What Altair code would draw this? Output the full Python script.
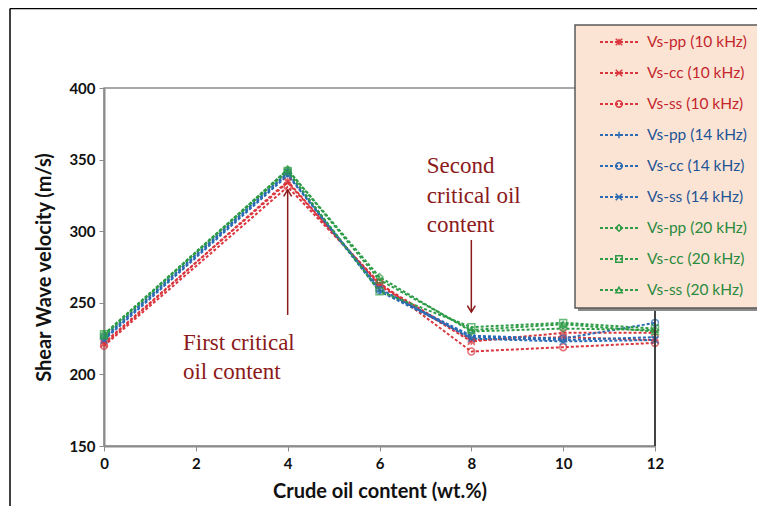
import altair as alt
import pandas as pd

# ---------------- data ----------------
oil_content = [0, 4, 6, 8, 10, 12]
series_names = [
    "Vs-pp (10 kHz)", "Vs-cc (10 kHz)", "Vs-ss (10 kHz)",
    "Vs-pp (14 kHz)", "Vs-cc (14 kHz)", "Vs-ss (14 kHz)",
    "Vs-pp (20 kHz)", "Vs-cc (20 kHz)", "Vs-ss (20 kHz)",
]
series_freq = ["10 kHz"] * 3 + ["14 kHz"] * 3 + ["20 kHz"] * 3
vs_pp_10 = [221, 335, 262, 223, 229, 229]
vs_cc_10 = [222, 334, 263, 224, 226, 224]
vs_ss_10 = [220, 331, 264, 216, 219, 222]
vs_pp_14 = [225, 340, 258, 226, 224, 226]
vs_cc_14 = [226, 341, 259, 227, 225, 236]
vs_ss_14 = [224, 339, 260, 225, 223, 224]
vs_pp_20 = [228, 343, 268, 230, 232, 231]
vs_cc_20 = [228, 342, 258, 233, 236, 232]
vs_ss_20 = [227, 343, 266, 231, 235, 230]
series_values = [vs_pp_10, vs_cc_10, vs_ss_10, vs_pp_14, vs_cc_14, vs_ss_14,
                 vs_pp_20, vs_cc_20, vs_ss_20]

freq_domain = ["10 kHz", "14 kHz", "20 kHz"]
line_colors = ["#D9363E", "#2A6BB3", "#2E9C46"]
text_colors = ["#C4262E", "#1F5496", "#2A8A3E"]
marker_paths = [
    "M-1,-1L1,1M-1,1L1,-1M0,-1L0,1",   # pp 10
    "M-1,-1L1,1M-1,1L1,-1M-1,0L1,0",   # cc 10
    "circle",                          # ss 10
    "M-1,0L1,0M0,-1L0,1",              # pp 14
    "circle",                          # cc 14
    "M-1,-1L1,1M-1,1L1,-1",            # ss 14
    "diamond",                         # pp 20
    "square",                          # cc 20
    "triangle-up",                     # ss 20
]

# annotations (data coordinates)
ann_text = ["First critical", "oil content", "Second", "critical oil", "content"]
ann_x = [1.72, 1.72, 7.03, 7.03, 7.03]
ann_y = [222, 201.5, 345.5, 324.6, 304.3]
arrow_x = [4, 8]
arrow_from = [241.5, 293.9]
arrow_to = [328.8, 243.6]

# ---------------- tables ----------------
rows = []
for i, (name, fq, vals) in enumerate(zip(series_names, series_freq, series_values)):
    for x, v in zip(oil_content, vals):
        rows.append({"oil": x, "vs": v, "series": name, "freq": fq, "idx": i})
df = pd.DataFrame(rows)
leg_df = pd.DataFrame({"series": series_names, "freq": series_freq,
                       "idx": list(range(len(series_names)))})
ann_df = pd.DataFrame({"text": ann_text, "x": ann_x, "y": ann_y})
arr_df = pd.DataFrame({"x": arrow_x, "y": arrow_from, "y2": arrow_to,
                       "dir": ["up", "down"]})
one = pd.DataFrame({"a": [0]})

W, H = 551, 358
DARK_RED = "#8B1A1A"

xs = alt.X("oil:Q", title="Crude oil content (wt.%)",
           scale=alt.Scale(domain=[0, 12], nice=False),
           axis=alt.Axis(values=[0, 2, 4, 6, 8, 10, 12], grid=False, labelFlush=False))
ys = alt.Y("vs:Q", title="Shear Wave velocity (m/s)",
           scale=alt.Scale(domain=[150, 400], nice=False, zero=False),
           axis=alt.Axis(values=[150, 200, 250, 300, 350, 400], grid=False, labelFlush=False))
col = alt.Color("freq:N", scale=alt.Scale(domain=freq_domain, range=line_colors), legend=None)
shp = alt.Shape("series:N", scale=alt.Scale(domain=series_names, range=marker_paths), legend=None)

base = alt.Chart(df)
lines = base.mark_line(strokeDash=[3, 2], strokeWidth=2).encode(
    x=xs, y=ys, color=col, detail="series:N", order="oil:Q")
points = base.mark_point(filled=False, size=48, strokeWidth=1.5).encode(
    x="oil:Q", y="vs:Q", color=col, shape=shp)

# right border darker
right_border = alt.Chart(one).mark_rule(color="#222", strokeWidth=1.5).encode(
    x=alt.value(W), y=alt.value(0), y2=alt.value(H))

# annotations
ann = alt.Chart(ann_df).mark_text(align="left", baseline="middle", font="Liberation Serif",
                                  fontSize=23, color=DARK_RED).encode(
    x="x:Q", y="y:Q", text="text:N")
arr_line = alt.Chart(arr_df).mark_rule(color=DARK_RED, strokeWidth=1.5).encode(
    x="x:Q", y="y:Q", y2="y2:Q")
head_up = alt.Chart(arr_df).transform_filter("datum.dir == 'up'").mark_point(
    shape="M-1,1.6L0,0L1,1.6", size=64, filled=False, color=DARK_RED, strokeWidth=1.5,
    opacity=1).encode(x="x:Q", y="y2:Q")
head_down = alt.Chart(arr_df).transform_filter("datum.dir == 'down'").mark_point(
    shape="M-1,-1.6L0,0L1,-1.6", size=64, filled=False, color=DARK_RED, strokeWidth=1.5,
    opacity=1).encode(x="x:Q", y="y2:Q")

# outer frame (left + top)
frame_left = alt.Chart(one).mark_rule(color="#000", strokeWidth=1.5).encode(
    x=alt.value(-94), y=alt.value(-79.5), y2=alt.value(430))
frame_top = alt.Chart(one).mark_rule(color="#000", strokeWidth=1.5).encode(
    x=alt.value(-94), x2=alt.value(700), y=alt.value(-79.5))

# custom legend
lg_shadow = alt.Chart(one).mark_rect(color="#8a8a8a").encode(
    x=alt.value(474), x2=alt.value(700), y=alt.value(-60), y2=alt.value(223))
lg_box = alt.Chart(one).mark_rect(fill="#FCE4D4", stroke="#5a5a5a", strokeWidth=1.5).encode(
    x=alt.value(471), x2=alt.value(700), y=alt.value(-63), y2=alt.value(220))
leg_base = alt.Chart(leg_df).transform_calculate(ly="-46 + 31 * datum.idx")
ly = alt.Y("ly:Q", scale=None, axis=None)
lg_line = leg_base.mark_rule(strokeDash=[3, 2], strokeWidth=2).encode(
    x=alt.value(496), x2=alt.value(534), y=ly, color=col)
lg_pt = leg_base.mark_point(filled=False, size=42, strokeWidth=1.5, opacity=1).encode(
    x=alt.value(515), y=ly, color=col, shape=shp)
lg_txt = leg_base.mark_text(align="left", baseline="middle", font="Lato", fontSize=15.5).encode(
    x=alt.value(543), y=ly, text="series:N",
    fill=alt.Fill("freq:N", scale=alt.Scale(domain=freq_domain, range=text_colors), legend=None))

chart = alt.layer(
    frame_left, frame_top, lines, points, right_border, arr_line, head_up, head_down, ann,
    lg_shadow, lg_box, lg_line, lg_pt, lg_txt,
).properties(
    width=W, height=H,
    autosize=alt.AutoSizeParams(type="none"),
    padding={"left": 96, "top": 80, "right": 102, "bottom": 60},
    background="white",
).configure_view(
    stroke="#8c8c8c", strokeWidth=1.5,
).configure_axis(
    domainColor="#8c8c8c", domainWidth=2, tickColor="#8c8c8c", tickSize=5,
    labelFont="Lato", labelFontWeight="bold", labelFontSize=15, labelColor="#111",
    titleFont="Lato", titleFontWeight="bold", titleFontSize=20, titleColor="#111",
).configure_axisX(labelPadding=5, titlePadding=10).configure_axisY(labelPadding=4, titlePadding=14)

chart.save("out.html", embed_options={"renderer": "svg", "actions": False})
